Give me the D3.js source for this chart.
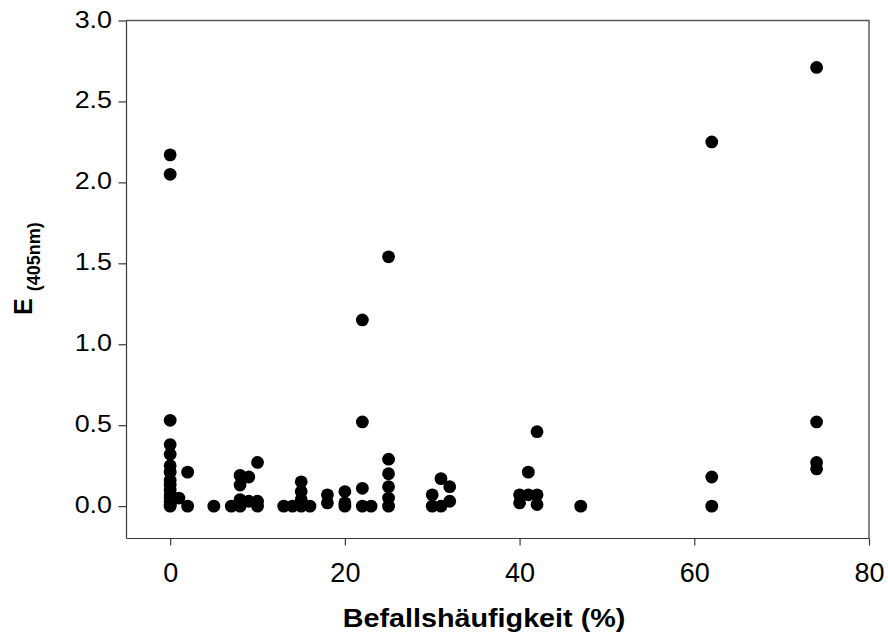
<!DOCTYPE html>
<html>
<head>
<meta charset="utf-8">
<script src="https://cdn.jsdelivr.net/npm/d3@7"></script>
<style>
  html, body { margin: 0; padding: 0; background: #fff; }
  svg { display: block; }
</style>
</head>
<body>
<svg id="chart" width="888" height="633"></svg>
<script>
// Befallshäufigkeit (%) per sample and the measured extinction at 405 nm
const befall = [
  0, 0, 0, 0, 0, 0, 0, 0, 0, 0, 0, 0, 0, 0, 0,
  1, 2, 2, 5, 7,
  8, 8, 8, 8, 9, 9, 10, 10, 10,
  13, 14, 15, 15, 15, 15, 16, 18, 18,
  20, 20, 20, 22, 22, 22, 22, 23,
  25, 25, 25, 25, 25, 25,
  30, 30, 31, 31, 32, 32,
  40, 40, 41, 41, 42, 42, 42, 47,
  62, 62, 62, 74, 74, 74, 74
];
const extinktion = [
  2.17, 2.05, 0.53, 0.38, 0.32, 0.25, 0.21, 0.16, 0.13, 0.10, 0.07, 0.05, 0.03, 0.01, 0.00,
  0.05, 0.21, 0.00, 0.00, 0.00,
  0.19, 0.13, 0.04, 0.00, 0.18, 0.03, 0.27, 0.03, 0.00,
  0.00, 0.00, 0.15, 0.09, 0.04, 0.00, 0.00, 0.07, 0.02,
  0.09, 0.02, 0.00, 1.15, 0.52, 0.11, 0.00, 0.00,
  1.54, 0.29, 0.20, 0.12, 0.05, 0.00,
  0.07, 0.00, 0.17, 0.00, 0.12, 0.03,
  0.07, 0.02, 0.21, 0.07, 0.46, 0.07, 0.01, 0.00,
  2.25, 0.18, 0.00, 2.71, 0.52, 0.27, 0.23
];
const xTicks = [0, 20, 40, 60, 80];
const yTicks = [0, 0.5, 1.0, 1.5, 2.0, 2.5, 3.0];
const xDomain = [-5, 80];
const yDomain = [-0.2, 3.0];

const svg = d3.select("#chart");
const plotLeft = 126.5, plotRight = 869, plotTop = 20.5, plotBottom = 538.5;

const x = d3.scaleLinear().domain(xDomain).range([plotLeft, plotRight]);
const y = d3.scaleLinear().domain(yDomain).range([plotBottom, plotTop]);

const axisColor = "#3a3a3a";
const tickFont = "'Liberation Sans', Arial, sans-serif";

// frame (top and right edges)
svg.append("path")
  .attr("d", `M${plotLeft},${plotTop}H${plotRight}V${plotBottom}`)
  .attr("fill", "none")
  .attr("stroke", "#555")
  .attr("stroke-width", 1.4);

// y axis
const yAxis = svg.append("g")
  .attr("transform", `translate(${plotLeft},0)`)
  .call(d3.axisLeft(y).tickValues(yTicks).tickSize(8).tickSizeOuter(0).tickFormat(d3.format(".1f")));
yAxis.select(".domain").attr("stroke", axisColor).attr("stroke-width", 1.2)
  .attr("d", `M0,${plotBottom}V${plotTop}`);
yAxis.selectAll(".tick line").attr("stroke", axisColor).attr("stroke-width", 1.2);
yAxis.selectAll(".tick text")
  .attr("x", null).attr("dy", null)
  .attr("transform", "translate(-14.5,6.5) scale(1.12,1)")
  .attr("text-anchor", "end")
  .style("font-family", tickFont)
  .style("font-size", "24px")
  .attr("fill", "#000");

// x axis
const xAxis = svg.append("g")
  .attr("transform", `translate(0,${plotBottom})`)
  .call(d3.axisBottom(x).tickValues(xTicks).tickSize(7).tickSizeOuter(0).tickFormat(d3.format("d")));
xAxis.select(".domain").attr("stroke", axisColor).attr("stroke-width", 1.2)
  .attr("d", `M${plotLeft},0H${plotRight}`);
xAxis.selectAll(".tick line").attr("stroke", axisColor).attr("stroke-width", 1.2);
xAxis.selectAll(".tick text")
  .attr("y", 43.5).attr("dy", null)
  .attr("text-anchor", "middle")
  .style("font-family", tickFont)
  .style("font-size", "27px")
  .attr("fill", "#000");

// data points
svg.append("g")
  .selectAll("circle")
  .data(befall.map((b, i) => [b, extinktion[i]]))
  .join("circle")
  .attr("cx", d => x(d[0]))
  .attr("cy", d => y(d[1]))
  .attr("r", 6.4)
  .attr("fill", "#000");

// x axis title
svg.append("text")
  .attr("transform", "translate(484,627) scale(1.15,1)")
  .attr("text-anchor", "middle")
  .style("font-family", tickFont)
  .style("font-size", "25px")
  .style("font-weight", "bold")
  .text("Befallshäufigkeit (%)");

// y axis title with subscript
const yTitle = svg.append("text")
  .attr("transform", "translate(32,315) rotate(-90)")
  .style("font-family", tickFont)
  .style("font-weight", "bold");
yTitle.append("tspan").style("font-size", "25px").text("E");
yTitle.append("tspan").style("font-size", "18px").attr("dx", 7).attr("dy", 8).text("(405nm)");
</script>
</body>
</html>
